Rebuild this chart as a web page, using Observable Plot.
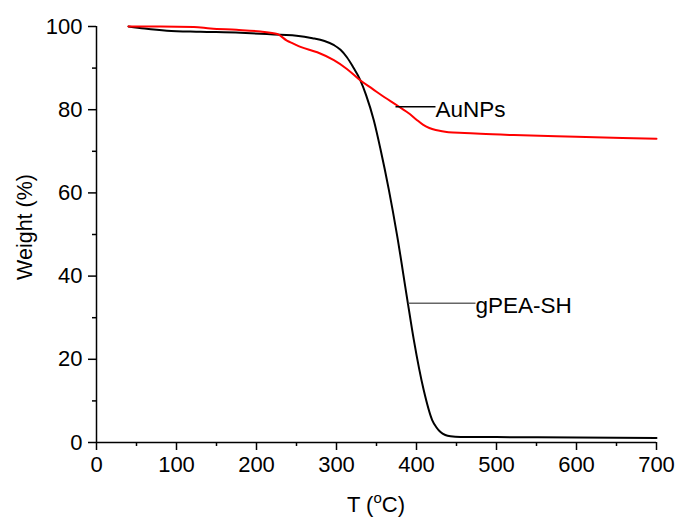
<!DOCTYPE html>
<html><head><meta charset="utf-8">
<script src="https://cdn.jsdelivr.net/npm/d3@7"></script>
<script src="https://cdn.jsdelivr.net/npm/@observablehq/plot@0.6"></script>
<style>body{margin:0;background:#fff;}</style>
</head><body><div id="chart"></div>
<script>
// gPEA-SH (black)
const gpeaT = [40, 60, 88, 130, 180, 213, 230, 250, 270, 285, 297, 305, 313, 320, 330, 337, 346.7, 355, 365.4, 376, 388.3, 396.7, 409, 419.6, 425, 430, 436, 442.5, 455, 500, 600, 700];
const gpeaW = [100, 99.5, 99.0, 98.75, 98.5, 98.2, 98.0, 97.8, 97.2, 96.5, 95.5, 94.4, 92.6, 90.5, 87, 83.5, 77.4, 70.5, 60.8, 49.5, 34.6, 24.6, 12.6, 5.4, 3.6, 2.5, 1.8, 1.5, 1.35, 1.3, 1.2, 1.1];
// AuNPs (red)
const aunpT = [40, 80, 121.7, 142.5, 175, 205, 226, 238, 246, 255, 276, 296.7, 313, 330, 345, 360, 376, 392, 400, 408, 416, 424, 432, 440, 460, 480, 521.7, 600, 700];
const aunpW = [100, 100, 99.9, 99.5, 99.2, 98.8, 98.2, 96.6, 95.9, 95.1, 93.8, 91.9, 89.8, 87.0, 85.0, 83.0, 81.0, 78.9, 77.6, 76.4, 75.6, 75.1, 74.8, 74.6, 74.4, 74.2, 73.9, 73.5, 73.0];

const xTicks = [0, 100, 200, 300, 400, 500, 600, 700];
const xMinor = [50, 150, 250, 350, 450, 550, 650];
const yTicks = [0, 20, 40, 60, 80, 100];
const yMinor = [10, 30, 50, 70, 90];

const seriesNames = ["AuNPs", "gPEA-SH"];
const labelLeaderFrom = [373.75, 390];
const labelLeaderTo = [423.75, 473.75];
const labelW = [80.7, 33.5];
const leaderColors = ["#000000", "#666666"];

const gpea = gpeaT.map((t, i) => ({T: t, W: gpeaW[i]}));
const aunp = aunpT.map((t, i) => ({T: t, W: aunpW[i]}));
const notes = seriesNames.map((n, i) => ({name: n, x1: labelLeaderFrom[i], x2: labelLeaderTo[i], y: labelW[i], c: leaderColors[i]}));

const font = "Liberation Sans, Arial, sans-serif";

const svg = Plot.plot({
  width: 679,
  height: 518,
  marginLeft: 96,
  marginRight: 23,
  marginTop: 26,
  marginBottom: 76,
  style: {fontFamily: font, fontSize: "22px", color: "#000", background: "#fff"},
  x: {domain: [0, 700]},
  y: {domain: [0, 100]},
  marks: [
    Plot.axisY(yTicks, {tickSize: 8, tickPadding: 6, strokeWidth: 1.5, fontSize: 22, label: null}),
    Plot.axisY(yMinor, {tickSize: 4, strokeWidth: 1.5, tickFormat: () => "", label: null}),
    Plot.axisX(xTicks, {tickSize: 8, tickPadding: 6, strokeWidth: 1.5, fontSize: 22, label: null}),
    Plot.axisX(xMinor, {tickSize: 4, strokeWidth: 1.5, tickFormat: () => "", label: null}),
    Plot.ruleX([0], {stroke: "#000", strokeWidth: 1.5}),
    Plot.ruleY([0], {stroke: "#000", strokeWidth: 1.5}),
    Plot.line(gpea, {x: "T", y: "W", stroke: "#000", strokeWidth: 2, curve: "monotone-x"}),
    Plot.line(aunp, {x: "T", y: "W", stroke: "#ff0000", strokeWidth: 2, curve: "monotone-x"}),
    Plot.link(notes, {x1: "x1", x2: "x2", y1: "y", y2: "y", stroke: "c", strokeWidth: 1.5}),
    Plot.text(notes, {x: "x2", y: "y", text: "name", textAnchor: "start", dy: 3, fill: "#000", fontSize: 22.5})
  ]
});

const sel = d3.select(svg);
// y-axis title
sel.append("text")
  .attr("transform", "translate(32,227) rotate(-90)")
  .attr("text-anchor", "middle")
  .attr("font-family", font)
  .attr("font-size", 21.5)
  .attr("fill", "#000")
  .text("Weight (%)");
// x-axis title with superscript "o"
const xt = sel.append("text")
  .attr("x", (96 + 656) / 2)
  .attr("y", 512)
  .attr("text-anchor", "middle")
  .attr("font-family", font)
  .attr("font-size", 22)
  .attr("fill", "#000");
xt.append("tspan").text("T (");
xt.append("tspan").attr("font-size", 15).attr("dy", -9).text("o");
xt.append("tspan").attr("dy", 9).text("C)");

document.getElementById("chart").appendChild(svg);
</script>
</body></html>
